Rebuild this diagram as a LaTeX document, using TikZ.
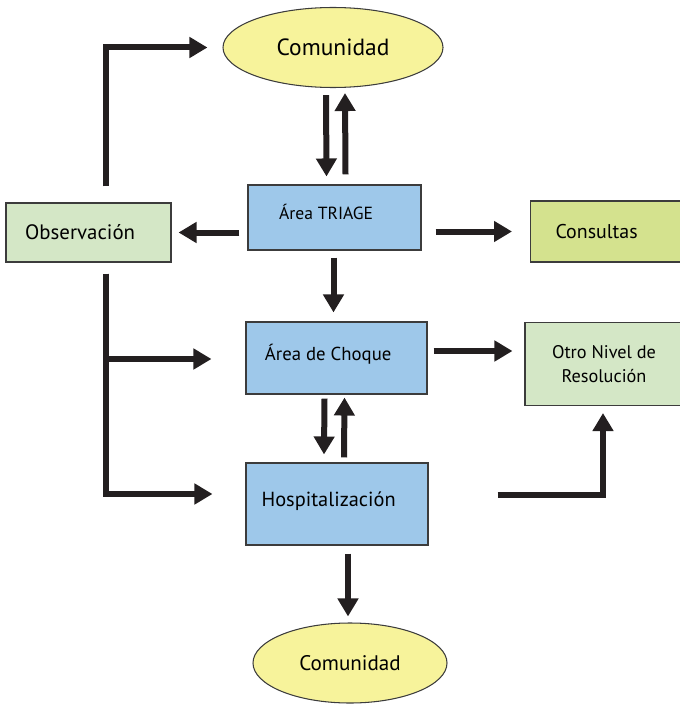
\documentclass[tikz,border=0pt]{standalone}
\usepackage{fontspec}
\setmainfont{PT Sans}
\usetikzlibrary{shapes.geometric,arrows.meta,calc}

\begin{document}
\begin{tikzpicture}[x=0.03cm, y=-0.03cm,
    flow/.style={line width=0.18cm, draw=flowline, -{Triangle[length=0.54cm,width=0.6cm]}},
    box/.style={draw=boxline, line width=0.9pt, rectangle, align=center, inner sep=2pt},
    lefttext/.style={execute at end node={\hspace*{0.5cm}}},
    hightext/.style={text height=0.5cm, text depth=0.38cm},
    comunidad/.style={draw=boxline, line width=0.9pt, ellipse, fill=comyellow, inner sep=0pt}]
    % Define colors
    \definecolor{flowline}{RGB}{35,31,32}
    \definecolor{boxline}{RGB}{60,60,60}
    \definecolor{areablue}{RGB}{158,200,234}
    \definecolor{obsgreen}{RGB}{212,231,198}
    \definecolor{consgreen}{RGB}{212,226,142}
    \definecolor{comyellow}{RGB}{247,243,155}

    \useasboundingbox (0,0) rectangle (680,704);

    % Nodes
    \node[comunidad, minimum width=6.6cm, minimum height=2.4cm, font=\fontsize{20}{23}\selectfont] (comtop) at (333,47.5) {Comunidad};
    \node[box, fill=areablue, lefttext, hightext, minimum width=5.19cm, minimum height=1.95cm, font=\fontsize{15}{18}\selectfont] (triage) at (334.5,217.5) {Área TRIAGE};
    \node[box, fill=obsgreen, lefttext, minimum width=4.95cm, minimum height=1.77cm, font=\fontsize{17.8}{20}\selectfont] (obs) at (88.5,232.5) {Observación};
    \node[box, fill=consgreen, anchor=west, text width=3.2cm, align=left, inner xsep=0.75cm, minimum height=1.83cm, font=\fontsize{17}{20}\selectfont] (cons) at (530,231.5) {Consultas};
    \node[box, fill=areablue, lefttext, hightext, minimum width=5.43cm, minimum height=2.16cm, font=\fontsize{16}{19}\selectfont] (choque) at (336.5,358) {Área de Choque};
    \node[box, fill=obsgreen, minimum width=4.74cm, minimum height=2.49cm, font=\fontsize{15.6}{20}\selectfont] (otro) at (604,364) {Otro Nivel de\\Resolución};
    \node[box, fill=areablue, lefttext, hightext, minimum width=5.46cm, minimum height=2.46cm, font=\fontsize{17.4}{20}\selectfont] (hosp) at (337,504) {Hospitalización};
    \node[comunidad, minimum width=5.82cm, minimum height=2.4cm, font=\fontsize{18}{21}\selectfont] (combot) at (350,663) {Comunidad};

    % Comunidad and Triage
    \draw[flow] ($(comtop.south)+(-7,7)$) -- ($(triage.north)+(-8,-8)$);
    \draw[flow] ($(triage.north)+(11,-10)$) -- ($(comtop.south)+(12,5)$);

    % Observacion back to Comunidad
    \draw[flow] ($(obs.north)+(17,-16)$) |- ($(comtop.west)+(-15,0)$);

    % Triage outputs
    \draw[flow] ($(triage.west |- obs.east)+(-8,0)$) -- ($(obs.east)+(7,0)$);
    \draw[flow] ($(triage.east |- cons.west)+(14,0)$) -- ($(cons.west)+(-18,0)$);
    \draw[flow] ($(triage.south)+(-1,7)$) -- ($(choque.north)+(-3,-9)$);

    % Observacion to Choque and Hospitalizacion
    \draw[flow] ($(obs.south)+(17,11)$) |- ($(hosp.west)+(-33,-10)$);
    \draw[flow] ($(obs.south)+(17,11)$) |- ($(choque.west)+(-34,1)$);

    % Choque outputs
    \draw[flow] ($(choque.east)+(6,-7)$) -- ($(otro.west |- choque.east)+(-12,-7)$);
    \draw[flow] ($(choque.south)+(-12,4)$) -- ($(hosp.north)+(-13,-8)$);
    \draw[flow] ($(hosp.north)+(7,-5)$) -- ($(choque.south)+(8,3)$);

    % Hospitalizacion outputs
    \draw[flow] ($(hosp.east)+(69,-9)$) -| ($(otro.south)+(-1,7)$);
    \draw[flow] ($(hosp.south)+(11,8)$) -- ($(combot.north)+(-2,-6)$);
\end{tikzpicture}
\end{document}
